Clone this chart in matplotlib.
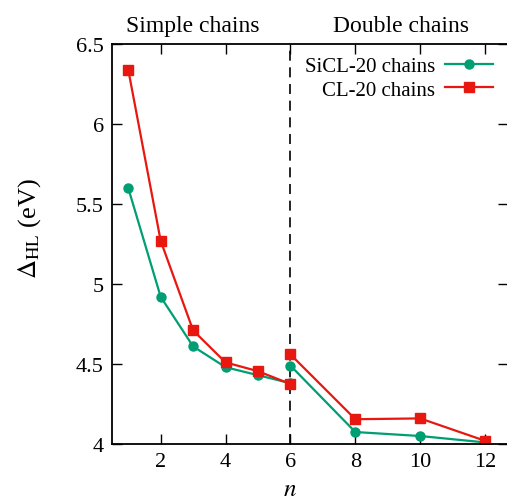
import matplotlib
matplotlib.use("Agg")
import matplotlib.pyplot as plt

# HOMO-LUMO gap vs chain length
n_simple = [1, 2, 3, 4, 5, 6]
sicl_simple = [5.60, 4.92, 4.61, 4.48, 4.43, 4.38]
cl_simple = [6.34, 5.27, 4.71, 4.51, 4.455, 4.375]

n_double = [6, 8, 10, 12]
sicl_double = [4.49, 4.075, 4.05, 4.01]
cl_double = [4.56, 4.155, 4.16, 4.02]

x_ticks = [2, 4, 6, 8, 10, 12]
y_ticks = [4, 4.5, 5, 5.5, 6, 6.5]
y_tick_labels = ["4", "4.5", "5", "5.5", "6", "6.5"]

GREEN = "#009E73"
RED = "#E8170F"

plt.rcParams["font.family"] = "Liberation Serif"
plt.rcParams["mathtext.fontset"] = "stix"

fig = plt.figure(figsize=(5.07, 5.02), dpi=100)
ax = fig.add_axes([0.2209, 0.1135, 0.782, 0.797])

ax.plot(n_simple, sicl_simple, "-o", color=GREEN, lw=1.6, ms=6.5, label="SiCL-20 chains")
ax.plot(n_simple, cl_simple, "-s", color=RED, lw=1.6, ms=7, label="CL-20 chains")
ax.plot(n_double, sicl_double, "-o", color=GREEN, lw=1.6, ms=6.5)
ax.plot(n_double, cl_double, "-s", color=RED, lw=1.6, ms=7)

ax.axvline(6, color="black", lw=1.2, ls=(0, (6, 4)), zorder=0)

ax.set_xlim(0.5, 12.72)
ax.set_ylim(4, 6.5)
ax.set_xticks(x_ticks)
ax.set_yticks(y_ticks)
ax.set_yticklabels(y_tick_labels)
ax.tick_params(direction="in", length=7, width=1, top=True, right=True, labelsize=16, pad=6)
for sp in ax.spines.values():
    sp.set_linewidth(1.3)

ax.set_xlabel("$n$", fontsize=18)
ax.xaxis.set_label_coords(0.45, -0.085)
ax.set_ylabel(r"$\Delta_{\mathrm{HL}}$ (eV)", fontsize=19)
ax.yaxis.set_label_coords(-0.175, 0.54)

ax.text(3.0, 6.55, "Simple chains", ha="center", va="bottom", fontsize=17)
ax.text(9.4, 6.55, "Double chains", ha="center", va="bottom", fontsize=17)

ax.legend(loc="upper right", bbox_to_anchor=(0.993, 1.0), frameon=False, markerfirst=False,
          fontsize=15, handlelength=2.3, handletextpad=0.5, labelspacing=0.2, borderaxespad=0.2)

fig.savefig("out.png", dpi=100)
